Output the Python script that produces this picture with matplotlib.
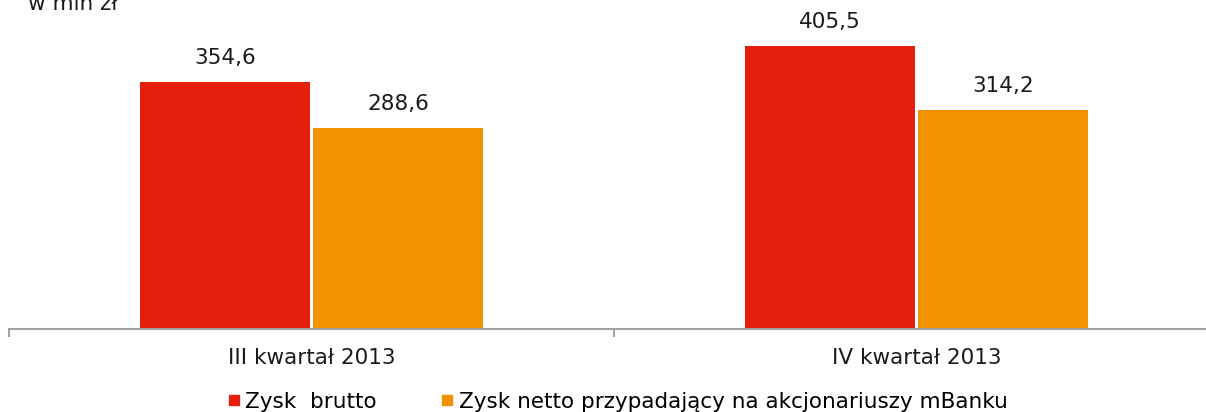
import matplotlib
matplotlib.use("Agg")
import matplotlib.pyplot as plt
from matplotlib.lines import Line2D
import numpy as np

QUARTERS = ["III kwartał 2013", "IV kwartał 2013"]
ZYSK_BRUTTO = [354.6, 405.5]
ZYSK_NETTO = [288.6, 314.2]
SERIES_NAMES = ["Zysk  brutto", "Zysk netto przypadający na akcjonariuszy mBanku"]

C_RED = "#E41F0B"
C_ORANGE = "#F39200"
C_AXIS = "#A0A0A0"
C_TEXT = "#1a1a1a"
W, H = 1206, 412
FS = 15.5


def fmt(v: float) -> str:
    return f"{v:.1f}".replace(".", ",")


fig = plt.figure(figsize=(W / 100, H / 100), dpi=100)
# axes run a bit past the right edge, like the original crop
ax = fig.add_axes([9 / W, 83.5 / H, 1210 / W, 328.5 / H])

x = np.arange(len(QUARTERS))
bw = 170 / 605
off = 86.5 / 605
bars1 = ax.bar(x - off, ZYSK_BRUTTO, width=bw, color=C_RED)
bars2 = ax.bar(x + off, ZYSK_NETTO, width=bw, color=C_ORANGE)

for bars, vals in [(bars1, ZYSK_BRUTTO), (bars2, ZYSK_NETTO)]:
    for bar, v in zip(bars, vals):
        ax.annotate(fmt(v), (bar.get_x() + bar.get_width() / 2, v),
                    xytext=(0, 10), textcoords="offset points",
                    ha="center", va="bottom", fontsize=FS, color=C_TEXT)

ax.set_xlim(-0.5, 1.5)
ax.set_ylim(0, 472)
ax.set_yticks([])
for s in ["top", "right", "left"]:
    ax.spines[s].set_visible(False)
ax.spines["bottom"].set_color(C_AXIS)
ax.spines["bottom"].set_linewidth(1.5)

ax.set_xticks(x)
ax.set_xticklabels(QUARTERS, fontsize=FS, color=C_TEXT)
ax.tick_params(axis="x", which="major", length=0, pad=14)
ax.set_xticks([-0.5, 0.5, 1.5], minor=True)
ax.tick_params(axis="x", which="minor", length=6, width=1.4, color=C_AXIS)

fig.text(28 / W, (H - 10) / H, "w mln zł", fontsize=FS, color=C_TEXT, va="baseline")

handles = [
    Line2D([0], [0], marker="s", linestyle="none", markersize=7.2, color=C_RED),
    Line2D([0], [0], marker="s", linestyle="none", markersize=7.2, color=C_ORANGE),
]
fig.legend(handles, SERIES_NAMES, loc="center", bbox_to_anchor=(618 / W, 10 / H),
           ncol=2, frameon=False, fontsize=FS, handlelength=0.5, handletextpad=0.3,
           columnspacing=3.0, borderpad=0)

fig.savefig("out.png", dpi=100)
